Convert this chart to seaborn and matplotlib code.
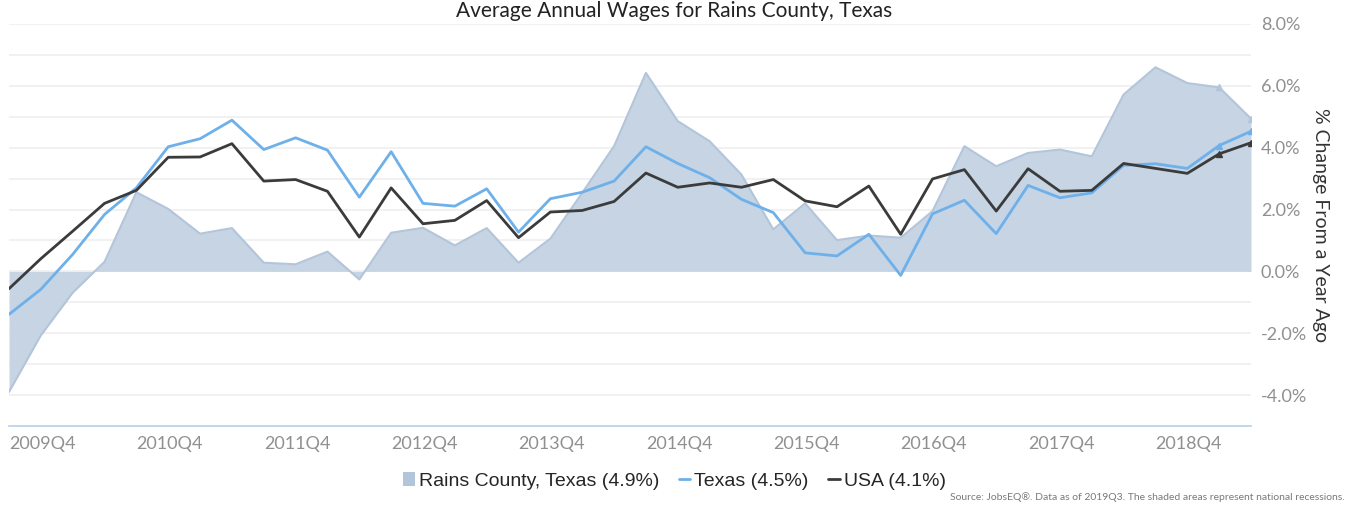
import matplotlib
matplotlib.use("Agg")
import matplotlib.pyplot as plt
from matplotlib.lines import Line2D
from matplotlib.patches import Patch
import numpy as np
import seaborn as sns

# quarterly series, 2009Q4 .. 2019Q3 (% change from a year ago)
quarters = [f"{y}Q{q}" for y in range(2009, 2020) for q in range(1, 5)][3:43]
rains = [-3.9, -2.07, -0.69, 0.31, 2.56, 2.02, 1.22, 1.40, 0.28, 0.23,
         0.64, -0.26, 1.25, 1.41, 0.84, 1.40, 0.28, 1.06, 2.54, 4.05,
         6.42, 4.86, 4.21, 3.13, 1.36, 2.20, 1.01, 1.16, 1.09, 1.95,
         4.05, 3.40, 3.83, 3.94, 3.72, 5.72, 6.60, 6.09, 5.95, 4.94]
texas = [-1.39, -0.58, 0.55, 1.84, 2.70, 4.03, 4.29, 4.89, 3.94, 4.32,
         3.92, 2.40, 3.87, 2.20, 2.11, 2.67, 1.27, 2.35, 2.56, 2.92,
         4.03, 3.49, 3.03, 2.33, 1.90, 0.60, 0.50, 1.20, -0.13, 1.86,
         2.30, 1.22, 2.78, 2.38, 2.54, 3.43, 3.48, 3.33, 4.07, 4.53]
usa = [-0.56, 0.41, 1.30, 2.20, 2.62, 3.69, 3.70, 4.13, 2.92, 2.97,
       2.59, 1.11, 2.70, 1.54, 1.65, 2.29, 1.09, 1.92, 1.97, 2.26,
       3.18, 2.72, 2.86, 2.72, 2.97, 2.28, 2.09, 2.76, 1.20, 2.99,
       3.29, 1.95, 3.32, 2.59, 2.62, 3.49, 3.33, 3.17, 3.80, 4.16]
legend_labels = ["Rains County, Texas (4.9%)", "Texas (4.5%)", "USA (4.1%)"]

area_fill = "#c6d4e3"
area_edge = "#b3c5da"
texas_col = "#6eb0ea"
usa_col = "#3b3b3b"

sns.set_style("white")
plt.rcParams["font.family"] = ["Lato", "DejaVu Sans"]

fig = plt.figure(figsize=(13.49, 5.08), dpi=100)
ax = fig.add_axes([9 / 1349, 82 / 508, 1242 / 1349, 402 / 508])

idx = np.arange(len(quarters))
ax.fill_between(idx, 0, rains, color=area_fill, lw=0, zorder=1)
ax.plot(idx, rains, color=area_edge, lw=1.5, zorder=1.5)
sns.lineplot(x=idx, y=texas, color=texas_col, lw=2, ax=ax, zorder=3)
sns.lineplot(x=idx, y=usa, color=usa_col, lw=2, ax=ax, zorder=4)
ax.plot(idx[-2:], rains[-2:], ls="none", marker="^", ms=4, color=area_edge, zorder=2)
ax.plot(idx[-2:], texas[-2:], ls="none", marker="^", ms=4, color=texas_col, zorder=3)
ax.plot(idx[-2:], usa[-2:], ls="none", marker="^", ms=4, color=usa_col, zorder=4)

ax.set_xlim(0, len(quarters) - 1)
ax.set_ylim(-5, 8)

# gridlines every 1%, labels every 2%
for g in range(-4, 9):
    ax.axhline(g, color="#efefef", lw=1.2, zorder=0)
ax.yaxis.tick_right()
ax.set_yticks(range(-4, 9, 2))
ax.set_yticklabels([f"{v:.1f}%" for v in range(-4, 9, 2)], color="#909090", fontsize=13)
ax.tick_params(axis="y", length=0, pad=7)

xt = idx[::4]
ax.set_xticks(xt)
ax.set_xticklabels([quarters[i] for i in xt], color="#909090", fontsize=13, ha="left")
ax.tick_params(axis="x", length=5, color="#b8cfe8", width=1, pad=2)

for s in ["top", "left", "right"]:
    ax.spines[s].set_visible(False)
ax.spines["bottom"].set_color("#b8cfe8")
ax.spines["bottom"].set_linewidth(1.2)

ax.yaxis.set_label_position("right")
ax.set_ylabel("% Change From a Year Ago", rotation=270, fontsize=14,
              color="#333333", labelpad=16)

fig.text(0.5, 1 - 17 / 508, "Average Annual Wages for Rains County, Texas",
         ha="center", va="baseline", fontsize=15, color="#222222")

handles = [
    Patch(facecolor="#b3c5da", edgecolor="none"),
    Line2D([0], [0], color=texas_col, lw=2),
    Line2D([0], [0], color=usa_col, lw=2),
]
fig.legend(handles, legend_labels, loc="center", bbox_to_anchor=(0.5, 1 - 481 / 508),
           ncol=3, frameon=False, handlelength=0.6, handletextpad=0.2,
           columnspacing=1.0, prop={"family": "Liberation Sans", "size": 14})

fig.text(1345 / 1349, 1 - 497 / 508,
         "Source: JobsEQ\u00ae. Data as of 2019Q3. The shaded areas represent national recessions.",
         ha="right", va="center", fontsize=7.5, color="#7a7a7a")

fig.savefig("out.png", dpi=100)
